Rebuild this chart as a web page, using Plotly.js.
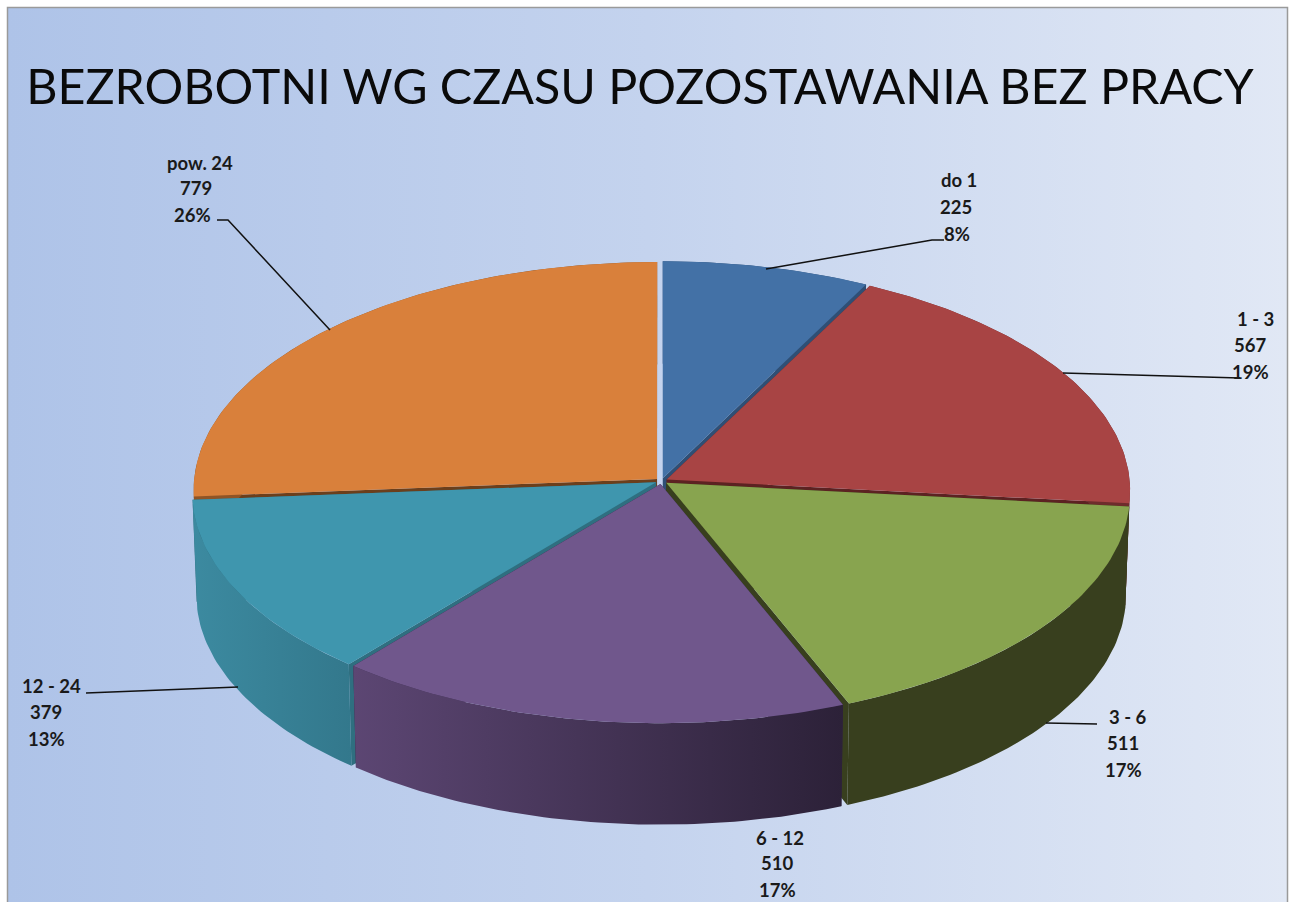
<!DOCTYPE html>
<html><head><meta charset="utf-8">
<script src="https://cdn.plot.ly/plotly-3.0.1.min.js"></script>
<style>html,body{margin:0;padding:0;background:#fff;overflow:hidden}#c{width:1293px;height:902px}</style>
</head><body><div id="c"></div>
<script>
const categories = ['do 1','1 - 3','3 - 6','6 - 12','12 - 24','pow. 24'];
const values = [225,567,511,510,379,779];
const topColors = ['#4371a6','#a84444','#88a44f','#70578c','#3f96ae','#d9803b'];
const wallColors = ['#2f4f75','#5c2222','#383f1e','#2f2340','#2f6f80','#6b3f1c'];
const sideLeft = ['#2f4f75','#6e2c2c','#383f1e','#5c4673','#3c8aa0','#8f5426'];
const sideRight = ['#2f4f75','#6e2c2c','#383f1e','#2c2138','#33788c','#8f5426'];
const labelX = [[959,956,957],[1255,1250,1250],[1128,1123,1123],[780,777,777],[51,46,46],[200,196,192]];
const labelY = [[180,207,234],[319,345,372],[717,743,770],[838,863,890],[686,712,739],[163,188,215]];
const leaders = [
  {x:[766,932,944],y:[269,240,240]},
  {x:[1063,1228,1240],y:[373,378,378]},
  {x:[1046,1097],y:[723,724]},
  {x:[238,86],y:[687,693]},
  {x:[330,228,217],y:[330,220,220]}
];
const titleText = 'BEZROBOTNI WG CZASU POZOSTAWANIA BEZ PRACY';

const geo = {cx:661.4, cy:481, rx:463, ry:227.5, k:0.048, e:0.013, cx2:661.4, cy2:583, rx2:459, ry2:227};
const total = values.reduce((a,b)=>a+b,0);
function proj(X,Y,bottom){
  const s = 1/(1-geo.k*Y);
  return bottom ? [geo.cx2+geo.rx2*X*s, geo.cy2+geo.ry2*Y*s] : [geo.cx+geo.rx*X*s, geo.cy+geo.ry*Y*s];
}
function unit(t,ox,oy){return [ox+Math.sin(t), oy-Math.cos(t)];}
function poly(pts){return {x:pts.map(p=>p[0]).concat(pts[0][0]), y:pts.map(p=>p[1]).concat(pts[0][1])};}

let cum = 0;
const slices = values.map((v,i)=>{
  const a0 = cum/total*2*Math.PI; cum += v; const a1 = cum/total*2*Math.PI; const m=(a0+a1)/2;
  return {i,a0,a1,m,ox:geo.e*Math.sin(m),oy:-geo.e*Math.cos(m)};
});
const ordered = slices.slice().sort((p,q)=>(p.oy)-(q.oy));
const traces = [];
const panel = {x:[8,1287,1287,8,8],y:[8,8,903,903,8],mode:'lines',fill:'toself',hoverinfo:'skip',
  line:{width:0},fillcolor:'#c4d3ee',
  fillgradient:{type:'horizontal',colorscale:[[0,'#aec3e8'],[0.5,'#c4d3ee'],[1,'#e1e8f5']]}};
traces.push(panel);
function addFill(p,color,grad){
  const t = {x:p.x,y:p.y,mode:'lines',fill:'toself',fillcolor:color,line:{width:0},hoverinfo:'skip'};
  if(grad) t.fillgradient={type:'horizontal',colorscale:[[0,grad[0]],[1,grad[1]]]};
  traces.push(t);
}
ordered.forEach(s=>{
  const c = [s.ox,s.oy];
  const n = Math.max(8,Math.round((s.a1-s.a0)*60));
  const arc = [];
  for(let j=0;j<=n;j++){ arc.push(unit(s.a0+(s.a1-s.a0)*j/n,s.ox,s.oy)); }
  [arc[0],arc[n]].forEach(q=>{
    addFill(poly([proj(c[0],c[1],false),proj(q[0],q[1],false),proj(q[0],q[1],true),proj(c[0],c[1],true)]),wallColors[s.i]);
  });
  const w = arc.map(q=>proj(q[0],q[1],false)).concat(arc.slice().reverse().map(q=>proj(q[0],q[1],true)));
  addFill(poly(w),sideLeft[s.i],[sideLeft[s.i],sideRight[s.i]]);
  const tp = [proj(c[0],c[1],false)].concat(arc.map(q=>proj(q[0],q[1],false)));
  addFill(poly(tp),topColors[s.i]);
});
leaders.forEach(l=>traces.push({x:l.x,y:l.y,mode:'lines',line:{color:'#111',width:1.5},hoverinfo:'skip'}));

const annotations=[];
categories.forEach((cat,i)=>{
  const lines=[cat,String(values[i]),Math.round(values[i]/total*100)+'%'];
  lines.forEach((t,j)=>annotations.push({x:labelX[i][j],y:labelY[i][j],text:t,showarrow:false,xanchor:'center',yanchor:'middle',
    font:{family:'Lato, sans-serif',size:18.5,color:'#1a1a1a',weight:700}}));
});
const layout={width:1293,height:902,margin:{l:0,r:0,t:0,b:0},paper_bgcolor:'#ffffff',plot_bgcolor:'rgba(0,0,0,0)',showlegend:false,
  title:{text:titleText,x:640/1293,xanchor:'center',y:1-87/902,yanchor:'middle',font:{family:'Lato, sans-serif',size:48.4,color:'#0a0a0a'}},
  xaxis:{range:[0,1293],visible:false,fixedrange:true},
  yaxis:{range:[902,0],visible:false,fixedrange:true},
  annotations,
  shapes:[{type:'path',path:'M7.5,902 L7.5,7.5 L1287.5,7.5 L1287.5,902',line:{color:'#9a9a9a',width:1.5},layer:'above'}]
};
Plotly.newPlot('c',traces,layout,{displayModeBar:false,staticPlot:true});
</script></body></html>
